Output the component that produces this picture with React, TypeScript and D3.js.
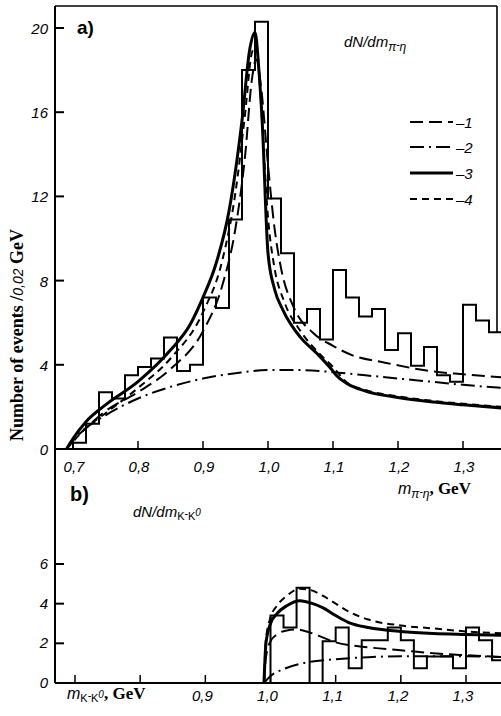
import React from "react";
import * as d3 from "d3";

const W = 501;
const H = 716;

// ---------- data ----------
const binWidth = 0.02;
const topBinStart = 0.7;
const topHist = [0.3, 1.2, 2.7, 2.4, 3.5, 3.9, 4.3, 5.3, 3.7, 4.0, 7.2, 6.7, 10.9, 18.0, 20.3, 11.9, 9.3, 6.0, 6.65, 5.2, 8.5, 7.2, 6.3, 6.65, 4.7, 5.5, 3.95, 4.85, 3.5, 3.2, 6.85, 6.1, 5.55];
const botBinStart = 1.0;
const botHist = [3.4, 2.8, 4.8, 0, 2.1, 2.8, 0.75, 2.15, 2.15, 2.8, 2.15, 0.75, 1.33, 1.33, 0.75, 2.8, 2.15, 1.15];

const topYTicks = [0, 4, 8, 12, 16, 20];
const topXTicks = [0.7, 0.8, 0.9, 1.0, 1.1, 1.2, 1.3];
const topXLabels = ["0,7", "0,8", "0,9", "1,0", "1,1", "1,2", "1,3"];
const botYTicks = [0, 2, 4, 6];
const botXTicks = [0.7, 0.8, 0.9, 1.0, 1.1, 1.2, 1.3];
const botXLabels = ["", "", "0,9", "1,0", "1,1", "1,2", "1,3"];

// curves, top panel (pi- eta)
const topCurve1: [number, number][] = [[0.69, 0], [0.7, 0.4], [0.72, 1.0], [0.75, 1.8], [0.8, 2.7], [0.85, 3.8], [0.9, 5.6], [0.93, 7.8], [0.95, 10.5], [0.965, 14], [0.975, 17.5], [0.982, 18.5], [0.99, 17], [1.0, 13.5], [1.01, 10.5], [1.02, 8.6], [1.04, 6.7], [1.07, 5.5], [1.1, 4.9], [1.13, 4.45], [1.18, 4.1], [1.25, 3.7], [1.3, 3.55], [1.36, 3.4]];
const topCurve2: [number, number][] = [[0.69, 0], [0.7, 0.45], [0.72, 1.0], [0.75, 1.6], [0.8, 2.4], [0.85, 2.95], [0.9, 3.35], [0.95, 3.6], [1.0, 3.75], [1.05, 3.75], [1.1, 3.65], [1.15, 3.5], [1.2, 3.35], [1.25, 3.2], [1.3, 3.05], [1.36, 2.9]];
const topCurve3: [number, number][] = [[0.69, 0], [0.7, 0.5], [0.72, 1.3], [0.75, 2.1], [0.8, 3.2], [0.85, 4.7], [0.88, 5.9], [0.9, 7.2], [0.92, 8.8], [0.94, 11.3], [0.96, 15.6], [0.972, 19], [0.98, 19.8], [0.986, 18], [0.991, 15.6], [1.0, 9.3], [1.01, 7.6], [1.023, 6.6], [1.05, 5.3], [1.075, 4.55], [1.1, 3.7], [1.105, 3.5], [1.122, 3.1], [1.15, 2.75], [1.2, 2.45], [1.25, 2.25], [1.3, 2.1], [1.36, 1.95]];
const topCurve4: [number, number][] = [[0.69, 0], [0.7, 0.35], [0.72, 1.0], [0.75, 1.7], [0.8, 2.9], [0.85, 4.3], [0.9, 6.5], [0.93, 9.0], [0.95, 12.2], [0.965, 16], [0.975, 18.8], [0.982, 19.2], [0.99, 16], [1.0, 11], [1.01, 8.6], [1.025, 7.0], [1.05, 5.6], [1.08, 4.5], [1.1, 3.9], [1.12, 3.2], [1.15, 2.8], [1.2, 2.5], [1.25, 2.3], [1.3, 2.15], [1.36, 2.0]];

// curves, bottom panel (K- K0)
const botCurve1: [number, number][] = [[0.99, 0], [0.993, 1.3], [1.0, 2.1], [1.01, 2.45], [1.025, 2.65], [1.04, 2.7], [1.06, 2.55], [1.08, 2.3], [1.1, 2.05], [1.15, 1.8], [1.2, 1.65], [1.25, 1.5], [1.3, 1.4], [1.36, 1.3]];
const botCurve2: [number, number][] = [[0.99, 0], [1.0, 0.35], [1.02, 0.7], [1.05, 1.0], [1.1, 1.2], [1.15, 1.3], [1.2, 1.35], [1.3, 1.35], [1.36, 1.3]];
const botCurve3: [number, number][] = [[0.99, 0], [0.993, 2.0], [1.0, 3.0], [1.01, 3.5], [1.025, 3.9], [1.045, 4.15], [1.065, 4.0], [1.08, 3.8], [1.1, 3.4], [1.12, 3.05], [1.15, 2.8], [1.2, 2.6], [1.25, 2.5], [1.3, 2.45], [1.36, 2.4]];
const botCurve4: [number, number][] = [[0.99, 0], [0.993, 2.2], [1.0, 3.3], [1.01, 3.9], [1.025, 4.4], [1.045, 4.75], [1.06, 4.7], [1.08, 4.4], [1.1, 4.0], [1.12, 3.6], [1.15, 3.2], [1.2, 2.9], [1.25, 2.75], [1.3, 2.6], [1.36, 2.5]];

const legendKeys = ["1", "2", "3", "4"];

// ---------- styles ----------
const styles: Record<string, { dash?: string; width: number }> = {
  "1": { dash: "13,6", width: 2 },
  "2": { dash: "14,5,2,5", width: 2 },
  "3": { width: 3 },
  "4": { dash: "7,5", width: 2 },
};

const tickFont = "'Liberation Sans', Arial, sans-serif";
const serif = "'Liberation Serif', 'Times New Roman', serif";

function histPath(values: number[], start: number, x: d3.ScaleLinear<number, number>, y: d3.ScaleLinear<number, number>) {
  const pts: [number, number][] = [[start, 0]];
  values.forEach((v, i) => pts.push([start + i * binWidth, v]));
  const end = start + values.length * binWidth;
  pts.push([end, values[values.length - 1]]);
  pts.push([end, 0]);
  const line = d3
    .line<[number, number]>()
    .x((d) => x(d[0]))
    .y((d) => y(d[1]))
    .curve(d3.curveStepAfter);
  // step-after from the first baseline point up at the first edge
  const p2: [number, number][] = [[start, 0], [start, values[0]]];
  values.forEach((v, i) => {
    p2.push([start + i * binWidth, v]);
  });
  p2.push([end, values[values.length - 1]]);
  p2.push([end, 0]);
  return line(p2.slice(1).length ? p2 : pts) as string;
}

export default function App() {
  const xTop = d3.scaleLinear().domain([0.7, 1.3]).range([73, 463]);
  const yTop = d3.scaleLinear().domain([0, 20]).range([449, 28]);
  const xBot = d3.scaleLinear().domain([0.7, 1.3]).range([75, 466]);
  const yBot = d3.scaleLinear().domain([0, 6]).range([683, 564]);

  const lineTop = d3
    .line<[number, number]>()
    .x((d) => xTop(d[0]))
    .y((d) => yTop(d[1]))
    .curve(d3.curveMonotoneX);
  const lineBot = d3
    .line<[number, number]>()
    .x((d) => xBot(d[0]))
    .y((d) => yBot(d[1]))
    .curve(d3.curveMonotoneX);

  const topCurves: [string, [number, number][]][] = [
    ["2", topCurve2],
    ["1", topCurve1],
    ["4", topCurve4],
    ["3", topCurve3],
  ];
  const botCurves: [string, [number, number][]][] = [
    ["2", botCurve2],
    ["1", botCurve1],
    ["4", botCurve4],
    ["3", botCurve3],
  ];

  const axisX = 55;
  const rightX = 497;

  return (
    <svg width={W} height={H} style={{ display: "block", position: "absolute", left: 0, top: 0, background: "#fff" }}>
      <defs>
        <clipPath id="clipTop">
          <rect x={axisX} y={0} width={rightX - axisX + 4} height={yTop(0)} />
        </clipPath>
        <clipPath id="clipBot">
          <rect x={axisX} y={500} width={W - axisX} height={yBot(0) - 500} />
        </clipPath>
      </defs>
      <rect x={0} y={0} width={W} height={H} fill="#fff" />

      {/* frame */}
      <line x1={axisX} y1={6} x2={axisX} y2={yBot(0)} stroke="#000" strokeWidth={2} />
      <line x1={axisX} y1={6} x2={rightX} y2={6} stroke="#000" strokeWidth={1.6} />
      <line x1={rightX} y1={6} x2={rightX} y2={yTop(topHist[topHist.length - 1])} stroke="#000" strokeWidth={1.6} />
      <line x1={axisX} y1={yTop(0)} x2={W} y2={yTop(0)} stroke="#000" strokeWidth={2} />
      <line x1={axisX} y1={yBot(0)} x2={W} y2={yBot(0)} stroke="#000" strokeWidth={2} />

      {/* top y ticks */}
      {topYTicks.map((t) => (
        <g key={"ty" + t}>
          <line x1={axisX} x2={axisX + 9} y1={yTop(t)} y2={yTop(t)} stroke="#000" strokeWidth={2} />
          <text x={48} y={yTop(t) + 6} textAnchor="end" fontFamily={tickFont} fontStyle="italic" fontSize={15}>
            {t}
          </text>
        </g>
      ))}
      {/* top x ticks */}
      {topXTicks.map((t, i) => (
        <g key={"tx" + t}>
          <line x1={xTop(t)} x2={xTop(t)} y1={yTop(0)} y2={yTop(0) - 8} stroke="#000" strokeWidth={1.5} />
          <text x={xTop(t) + 1} y={472} textAnchor="middle" fontFamily={tickFont} fontStyle="italic" fontSize={15}>
            {topXLabels[i]}
          </text>
        </g>
      ))}

      {/* bottom y ticks */}
      {botYTicks.map((t) => (
        <g key={"by" + t}>
          <line x1={axisX} x2={axisX + 9} y1={yBot(t)} y2={yBot(t)} stroke="#000" strokeWidth={2} />
          <text x={48} y={yBot(t) + 5} textAnchor="end" fontFamily={tickFont} fontStyle="italic" fontSize={15}>
            {t}
          </text>
        </g>
      ))}
      {/* bottom x ticks */}
      {botXTicks.map((t, i) => (
        <g key={"bx" + t}>
          <line x1={xBot(t)} x2={xBot(t)} y1={yBot(0)} y2={yBot(0) - 8} stroke="#000" strokeWidth={1.5} />
          {botXLabels[i] && (
            <text x={xBot(t) - 3} y={701} textAnchor="middle" fontFamily={tickFont} fontStyle="italic" fontSize={15}>
              {botXLabels[i]}
            </text>
          )}
        </g>
      ))}

      {/* histograms */}
      <g clipPath="url(#clipTop)">
        <path d={histPath(topHist, topBinStart, xTop, yTop)} fill="none" stroke="#000" strokeWidth={2} />
        {topCurves.map(([k, pts]) => (
          <path
            key={"tc" + k}
            d={lineTop(pts) as string}
            fill="none"
            stroke="#000"
            strokeWidth={styles[k].width}
            strokeDasharray={styles[k].dash}
          />
        ))}
      </g>
      <g clipPath="url(#clipBot)">
        <path d={histPath(botHist, botBinStart, xBot, yBot)} fill="none" stroke="#000" strokeWidth={2} />
        {botCurves.map(([k, pts]) => (
          <path
            key={"bc" + k}
            d={lineBot(pts) as string}
            fill="none"
            stroke="#000"
            strokeWidth={styles[k].width}
            strokeDasharray={styles[k].dash}
          />
        ))}
      </g>

      {/* legend */}
      {legendKeys.map((k, i) => {
        const yy = [122, 147, 173, 199][i];
        return (
          <g key={"lg" + k}>
            <line x1={410} x2={453} y1={yy} y2={yy} stroke="#000" strokeWidth={styles[k].width} strokeDasharray={styles[k].dash} />
            <text x={456} y={yy + 6} fontFamily={tickFont} fontStyle="italic" fontSize={15}>
              –{k}
            </text>
          </g>
        );
      })}

      {/* panel labels */}
      <text x={77} y={34} fontFamily={tickFont} fontWeight="bold" fontSize={19}>a)</text>
      <text x={70} y={501} fontFamily={tickFont} fontWeight="bold" fontSize={20}>b)</text>

      <text x={344} y={47} fontFamily={tickFont} fontStyle="italic" fontSize={15}>
        dN/dm
        <tspan fontSize={12} dy={4}>π</tspan>
        <tspan fontSize={10} dy={-3}>-</tspan>
        <tspan fontSize={12} dy={3}>η</tspan>
      </text>
      <text x={133} y={517} fontFamily={tickFont} fontStyle="italic" fontSize={15}>
        dN/dm
        <tspan fontSize={11} dy={3} fontStyle="normal">K</tspan>
        <tspan fontSize={10} dy={-3}>-</tspan>
        <tspan fontSize={11} dy={3} fontStyle="normal">K</tspan>
        <tspan fontSize={10} dy={-4}>0</tspan>
      </text>

      {/* axis titles */}
      <text x={398} y={494} fontFamily={tickFont} fontStyle="italic" fontSize={16}>
        m
        <tspan fontSize={12} dy={4}>π</tspan>
        <tspan fontSize={10} dy={-3}>-</tspan>
        <tspan fontSize={12} dy={3}>η</tspan>
        <tspan fontFamily={serif} fontStyle="normal" fontWeight="bold" fontSize={17} dy={-4}>, GeV</tspan>
      </text>
      <text x={67} y={699} fontFamily={tickFont} fontStyle="italic" fontSize={16}>
        m
        <tspan fontSize={11} dy={3} fontStyle="normal">K</tspan>
        <tspan fontSize={10} dy={-3}>-</tspan>
        <tspan fontSize={11} dy={3} fontStyle="normal">K</tspan>
        <tspan fontSize={10} dy={-4}>0</tspan>
        <tspan fontFamily={serif} fontStyle="normal" fontWeight="bold" fontSize={17} dy={1}>, GeV</tspan>
      </text>

      <text
        transform="translate(23,335) rotate(-90)"
        textAnchor="middle"
        fontFamily={serif}
        fontWeight="bold"
        fontSize={18}
      >
        Number of events /
        <tspan fontFamily={tickFont} fontStyle="italic" fontWeight="normal" fontSize={14}>0,02</tspan>
        <tspan> GeV</tspan>
      </text>
    </svg>
  );
}
